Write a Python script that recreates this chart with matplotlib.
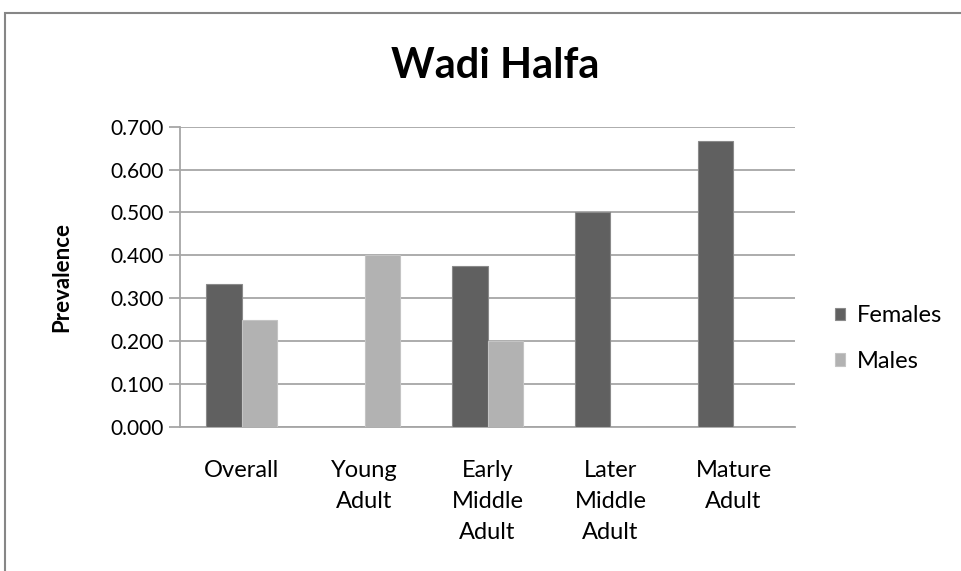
import numpy as np
import matplotlib.pyplot as plt
from matplotlib.patches import Rectangle

# prevalence by age group
categories = ['Overall', 'Young\nAdult', 'Early\nMiddle\nAdult', 'Later\nMiddle\nAdult', 'Mature\nAdult']
females = [0.333, 0.0, 0.375, 0.500, 0.667]
males = [0.250, 0.400, 0.200, 0.0, 0.0]
yticks = [0.0, 0.1, 0.2, 0.3, 0.4, 0.5, 0.6, 0.7]

plt.rcParams['font.family'] = ['Lato', 'DejaVu Sans']

W, H = 962, 571
fig = plt.figure(figsize=(W / 100, H / 100), dpi=100)
ax = fig.add_axes([180 / W, 1 - 426.7 / H, 615 / W, 300 / H])

# chart frame
fig.patches.append(Rectangle((5 / W, -0.05), 1.1, 1 - 13 / H + 0.05, transform=fig.transFigure,
                             fill=False, edgecolor='#868686', linewidth=1.5))

x = np.arange(len(categories))
bw = 0.29
ax.bar(x - bw / 2, females, bw, color='#606060', edgecolor='#8a8a8a', linewidth=0.8,
       label='Females', zorder=3)
ax.bar(x + bw / 2, males, bw, color='#b2b2b2', edgecolor='#c4c4c4', linewidth=0.8,
       label='Males', zorder=3)

ax.set_xlim(-0.5, len(categories) - 0.5)
ax.set_ylim(0, 0.7)
ax.set_yticks(yticks)
ax.set_yticklabels(['%.3f' % v for v in yticks], fontsize=15)
ax.yaxis.grid(True, color='#a6a6a6', linewidth=1.3, zorder=0)
ax.tick_params(axis='y', length=8, width=1.3, color='#a6a6a6', pad=4)
ax.set_xticks(x)
ax.set_xticklabels(categories, fontsize=17, linespacing=1.6, va='top')
ax.tick_params(axis='x', length=0, pad=24)

for s in ['top', 'right']:
    ax.spines[s].set_visible(False)
ax.spines['left'].set_color('#a6a6a6')
ax.spines['left'].set_linewidth(1.3)
ax.spines['bottom'].set_color('#a6a6a6')
ax.spines['bottom'].set_linewidth(1.3)

ax.set_ylabel('Prevalence', fontsize=16, fontweight='bold', labelpad=27)
fig.text(495 / W, 1 - 66 / H, 'Wadi Halfa', fontsize=30, fontweight='bold',
         ha='center', va='center')

ax.legend(loc='center left', bbox_to_anchor=(1.03, 0.293), frameon=False, fontsize=17,
          handlelength=0.45, handleheight=0.45, handletextpad=0.5, labelspacing=1.05)

fig.savefig('out.png', dpi=100)
